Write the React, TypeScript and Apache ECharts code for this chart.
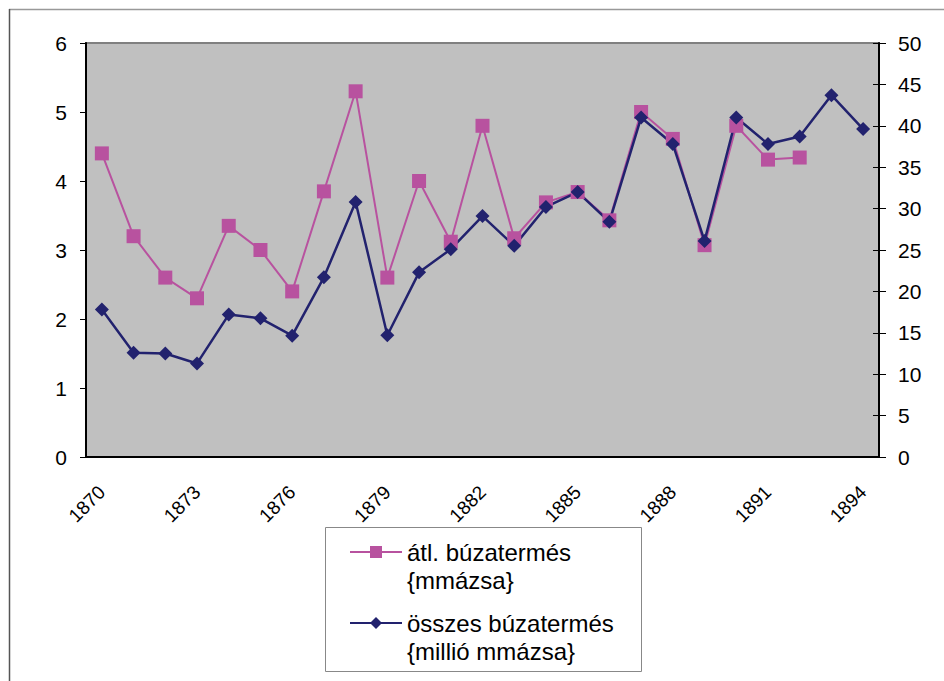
import React, { useEffect, useRef } from 'react';
import * as echarts from 'echarts';

const years = ['1870', '1871', '1872', '1873', '1874', '1875', '1876', '1877', '1878', '1879', '1880', '1881', '1882', '1883', '1884', '1885', '1886', '1887', '1888', '1889', '1890', '1891', '1892', '1893', '1894'];
const avgYield = [4.4, 3.2, 2.6, 2.3, 3.35, 3.0, 2.4, 3.85, 5.3, 2.6, 4.0, 3.12, 4.8, 3.17, 3.69, 3.84, 3.43, 5.0, 4.61, 3.07, 4.8, 4.31, 4.34, null, null];
const totalYield = [17.8, 12.6, 12.5, 11.3, 17.2, 16.75, 14.65, 21.7, 30.8, 14.7, 22.3, 25.1, 29.1, 25.5, 30.2, 32.0, 28.4, 41.0, 37.8, 26.1, 41.0, 37.8, 38.7, 43.7, 39.6];
const avgName = 'átl. búzatermés\n{mmázsa}';
const totalName = 'összes búzatermés\n{millió mmázsa}';

const FONT = '"Liberation Sans", Arial, sans-serif';
const PINK = '#B8529F';
const NAVY = '#22226E';

export default function App() {
  const ref = useRef<HTMLDivElement>(null);
  useEffect(() => {
    if (!ref.current) return;
    const chart = echarts.init(ref.current, null, { renderer: 'svg' });
    chart.setOption({
      animation: false,
      backgroundColor: '#fff',
      textStyle: { fontFamily: FONT },
      grid: {
        left: 86, right: 65, top: 43, bottom: 224,
        show: true, backgroundColor: '#C0C0C0', borderColor: '#808080', borderWidth: 2,
      },
      graphic: [
        { type: 'line', shape: { x1: 9, y1: 9.5, x2: 944, y2: 9.5 }, style: { stroke: '#999', lineWidth: 1.5 } },
        { type: 'line', shape: { x1: 9.5, y1: 9, x2: 9.5, y2: 681 }, style: { stroke: '#555', lineWidth: 1.5 } },
        { type: 'rect', shape: { x: 325.5, y: 527.5, width: 316, height: 144 }, style: { fill: '#fff', stroke: '#888', lineWidth: 1 } },
      ],
      legend: {
        orient: 'vertical', left: 349, top: 510, padding: 0,
        itemWidth: 52, itemHeight: 15, itemGap: -13,
        data: [avgName, totalName],
        formatter: (name: string) => '\n' + name,
        textStyle: { fontSize: 24, lineHeight: 28, color: '#000', fontFamily: FONT },
      },
      xAxis: [
        {
          type: 'category', data: years, boundaryGap: true, position: 'bottom',
          axisLine: { lineStyle: { color: '#000', width: 2 } },
          axisTick: { interval: 0, length: 5, lineStyle: { color: '#000' } },
          axisLabel: { interval: 2, rotate: 45, fontSize: 19, color: '#000', margin: 32, fontFamily: FONT },
        },
        {
          type: 'category', data: years, boundaryGap: true, position: 'bottom',
          axisLine: { show: false },
          axisTick: { interval: 0, inside: true, length: 6, lineStyle: { color: '#000' } },
          axisLabel: { show: false },
        },
      ],
      yAxis: [
        {
          type: 'value', min: 0, max: 6, interval: 1, position: 'left',
          splitLine: { show: false },
          axisLine: { show: true, lineStyle: { color: '#000', width: 2 } },
          axisTick: { show: true, length: 6, lineStyle: { color: '#000' } },
          axisLabel: { fontSize: 21, color: '#000', margin: 19, fontFamily: FONT },
        },
        {
          type: 'value', min: 0, max: 50, interval: 5, position: 'right',
          splitLine: { show: false },
          axisLine: { show: true, lineStyle: { color: '#000', width: 2 } },
          axisTick: { show: true, length: 7, lineStyle: { color: '#000' } },
          axisLabel: { fontSize: 21, color: '#000', margin: 19, fontFamily: FONT },
        },
        {
          type: 'value', min: 0, max: 50, interval: 5, position: 'right',
          splitLine: { show: false },
          axisLine: { show: false },
          axisTick: { show: true, inside: true, length: 6, lineStyle: { color: '#000' } },
          axisLabel: { show: false },
        },
      ],
      series: [
        {
          name: avgName, type: 'line', data: avgYield, yAxisIndex: 0,
          symbol: 'rect', symbolSize: 14, connectNulls: false,
          lineStyle: { color: PINK, width: 2 }, itemStyle: { color: PINK },
        },
        {
          name: totalName, type: 'line', data: totalYield, yAxisIndex: 1,
          symbol: 'diamond', symbolSize: 14,
          lineStyle: { color: NAVY, width: 2.5 }, itemStyle: { color: NAVY },
        },
      ],
    });
    return () => chart.dispose();
  }, []);
  return <div ref={ref} style={{ position: 'fixed', left: 0, top: 0, width: 944, height: 681 }} />;
}
